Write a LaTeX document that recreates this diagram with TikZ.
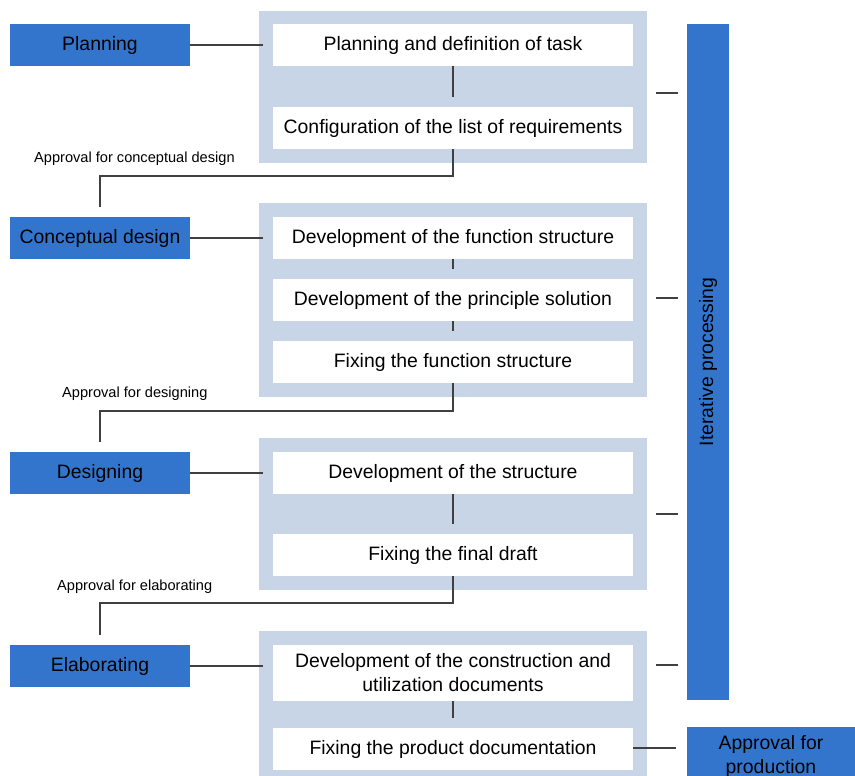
\documentclass[tikz,border=0pt]{standalone}
\usepackage{fontspec}
\setmainfont{Liberation Sans}
\definecolor{bblue}{HTML}{3375CC}
\definecolor{lpanel}{HTML}{C8D5E6}
\definecolor{lnkc}{HTML}{404040}
\begin{document}
\begin{tikzpicture}[x=1pt,y=-1pt,
  bigfont/.style={font=\fontsize{19.4}{24}\selectfont},
  phase/.style={fill=bblue,draw=none,minimum width=180pt,minimum height=42pt,inner sep=0pt,outer sep=0pt,bigfont},
  panel/.style={fill=lpanel,draw=none,minimum width=388pt,inner sep=0pt,outer sep=0pt},
  task/.style={fill=white,draw=none,minimum width=360pt,minimum height=42pt,inner sep=0pt,outer sep=0pt,align=center,bigfont},
  lnk/.style={draw=lnkc,line width=1.2pt},
  appr/.style={anchor=base west,inner sep=0pt,font=\fontsize{14.6}{17}\selectfont}]
\useasboundingbox (0,0) rectangle (855,776);

% panels
\node[panel,minimum height=152pt] (p1) at (453,87) {};
\node[panel,minimum height=194pt] (p2) at (453,300) {};
\node[panel,minimum height=152pt] (p3) at (453,514) {};
\node[panel,minimum height=149pt] (p4) at (453,705.5) {};

% phases
\node[phase] (pl) at (100,45) {Planning};
\node[phase] (cd) at (100,238) {Conceptual design};
\node[phase] (de) at (100,473) {Designing};
\node[phase] (el) at (100,666) {Elaborating};

% tasks
\node[task] (t1) at (453,45) {Planning and definition of task};
\node[task] (t2) at (453,128) {Configuration of the list of requirements};
\node[task] (t3) at (453,238) {Development of the function structure};
\node[task] (t4) at (453,300) {Development of the principle solution};
\node[task] (t5) at (453,362) {Fixing the function structure};
\node[task] (t6) at (453,473) {Development of the structure};
\node[task] (t7) at (453,555) {Fixing the final draft};
\node[task,minimum height=56pt] (t8) at (453,673) {Development of the construction and\\utilization documents};
\node[task] (t9) at (453,749) {Fixing the product documentation};

% right side
\node[fill=bblue,minimum width=676pt,minimum height=42pt,inner sep=0pt,outer sep=0pt,rotate=90,bigfont] (it) at (708,362) {Iterative processing};
\node[fill=bblue,minimum width=168pt,minimum height=58pt,inner sep=0pt,outer sep=0pt,align=center,bigfont] (ap) at (771,756) {Approval for\\production};

% phase to task connectors
\draw[lnk] (pl.east) -- ([xshift=4pt]pl.east -| p1.west);
\draw[lnk] (cd.east) -- ([xshift=4pt]cd.east -| p2.west);
\draw[lnk] (de.east) -- ([xshift=4pt]de.east -| p3.west);
\draw[lnk] (el.east) -- ([xshift=4pt]el.east -| p4.west);

% ticks between tasks
\draw[lnk] (t1.south) -- ([yshift=10pt]t2.north);
\draw[lnk] (t3.south) -- ([yshift=10pt]t4.north);
\draw[lnk] (t4.south) -- ([yshift=10pt]t5.north);
\draw[lnk] (t6.south) -- ([yshift=10pt]t7.north);
\draw[lnk] (t8.south) -- ([yshift=10pt]t9.north);

% approvals
\coordinate (k1) at (100,176);
\coordinate (k2) at (100,411);
\coordinate (k3) at (100,603);
\draw[lnk] (t2.south) |- (k1) -- ([yshift=10pt]cd.north);
\draw[lnk] (t5.south) |- (k2) -- ([yshift=10pt]de.north);
\draw[lnk] (t7.south) |- (k3) -- ([yshift=10pt]el.north);
\node[appr] (a1) at (34,162.5) {Approval for conceptual design};
\node[appr] (a2) at (62,397.5) {Approval for designing};
\node[appr] (a3) at (57,590.5) {Approval for elaborating};

% ticks to iterative bar
\coordinate (r1a) at (656,93);  \coordinate (r1b) at (678,93);
\coordinate (r2a) at (656,298); \coordinate (r2b) at (678,298);
\coordinate (r3a) at (656,514); \coordinate (r3b) at (678,514);
\coordinate (r4a) at (656,665); \coordinate (r4b) at (678,665);
\draw[lnk] (r1a) -- (r1b);
\draw[lnk] (r2a) -- (r2b);
\draw[lnk] (r3a) -- (r3b);
\draw[lnk] (r4a) -- (r4b);

% to approval for production
\draw[lnk] ([yshift=1pt]t9.east) -- ([xshift=-11pt,yshift=1pt]t9.east -| ap.west);
\end{tikzpicture}
\end{document}
